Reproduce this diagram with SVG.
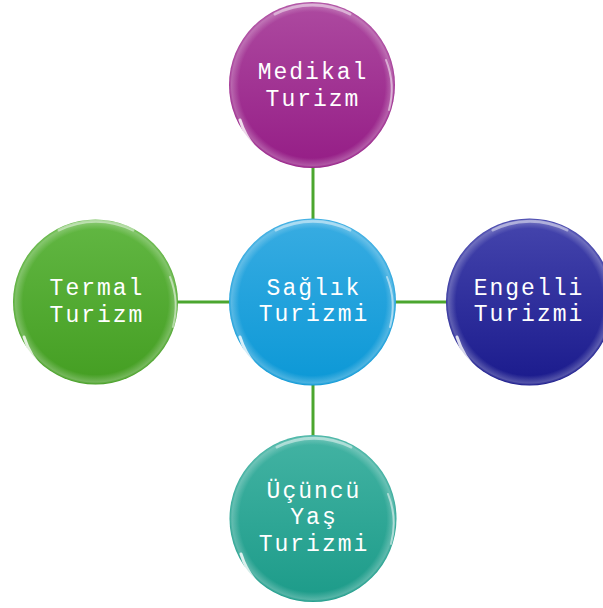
<svg xmlns="http://www.w3.org/2000/svg" width="603" height="608" viewBox="0 0 603 608">
<defs>
<linearGradient id="gM" x1="0" y1="0" x2="0" y2="1"><stop offset="0" stop-color="#ad4aa0"/><stop offset="1" stop-color="#951d86"/></linearGradient>
<linearGradient id="gC" x1="0" y1="0" x2="0" y2="1"><stop offset="0" stop-color="#38ace2"/><stop offset="1" stop-color="#0c98d6"/></linearGradient>
<linearGradient id="gL" x1="0" y1="0" x2="0" y2="1"><stop offset="0" stop-color="#62b743"/><stop offset="1" stop-color="#449e22"/></linearGradient>
<linearGradient id="gR" x1="0" y1="0" x2="0" y2="1"><stop offset="0" stop-color="#4545ad"/><stop offset="1" stop-color="#1a1a8c"/></linearGradient>
<linearGradient id="gB" x1="0" y1="0" x2="0" y2="1"><stop offset="0" stop-color="#43b3a3"/><stop offset="1" stop-color="#1c9b89"/></linearGradient>
<radialGradient id="rim" cx="0.5" cy="0.5" r="0.5"><stop offset="0.88" stop-color="#fff" stop-opacity="0"/><stop offset="0.97" stop-color="#fff" stop-opacity="0.25"/><stop offset="1" stop-color="#fff" stop-opacity="0"/></radialGradient>
</defs>
<style>
.lbl{font-family:"Liberation Mono","Courier New",monospace;font-size:23px;letter-spacing:2px;fill:#fff;text-anchor:middle}
.conn{stroke:#4ba62f;stroke-width:3;fill:none}
.hl{fill:none;stroke:#fff;stroke-linecap:round}
</style>
<g id="connectors">
<line class="conn" x1="313" y1="166" x2="313" y2="220"/>
<line class="conn" x1="313" y1="384" x2="313" y2="437"/>
<line class="conn" x1="176" y1="302" x2="231" y2="302"/>
<line class="conn" x1="394" y1="302" x2="448" y2="302"/>
</g>
<g id="node-medikal">
<circle cx="312" cy="85" r="83" fill="url(#gM)"/>
<circle cx="312" cy="85" r="83" fill="url(#rim)"/>
<path class="hl" d="M 240 120 A 79 79 0 0 0 262 155" stroke-width="3" opacity="0.8"/>
<path class="hl" d="M 275 14 A 82 82 0 0 1 350 14" stroke-width="3" opacity="0.45"/>
<path class="hl" d="M 386 60 A 80 80 0 0 1 389 110" stroke-width="2" opacity="0.5"/>
<text class="lbl" x="313" y="79">Medikal</text>
<text class="lbl" x="313" y="106">Turizm</text>
</g>
<g id="node-saglik">
<circle cx="312.5" cy="302" r="83.5" fill="url(#gC)"/>
<circle cx="312.5" cy="302" r="83.5" fill="url(#rim)"/>
<path class="hl" d="M 240 337 A 79 79 0 0 0 262 372" stroke-width="3" opacity="0.8"/>
<path class="hl" d="M 276 230 A 82 82 0 0 1 350 230" stroke-width="3" opacity="0.45"/>
<path class="hl" d="M 387 277 A 80 80 0 0 1 390 327" stroke-width="2" opacity="0.5"/>
<text class="lbl" x="314" y="295">Sağlık</text>
<text class="lbl" x="314" y="321">Turizmi</text>
</g>
<g id="node-termal">
<circle cx="95.5" cy="302" r="82.5" fill="url(#gL)"/>
<circle cx="95.5" cy="302" r="82.5" fill="url(#rim)"/>
<path class="hl" d="M 24 337 A 79 79 0 0 0 46 372" stroke-width="3" opacity="0.8"/>
<path class="hl" d="M 59 230 A 82 82 0 0 1 133 230" stroke-width="3" opacity="0.45"/>
<path class="hl" d="M 170 277 A 80 80 0 0 1 173 327" stroke-width="2" opacity="0.5"/>
<text class="lbl" x="97" y="295">Termal</text>
<text class="lbl" x="97" y="322">Turizm</text>
</g>
<g id="node-engelli">
<circle cx="529.5" cy="302" r="83.5" fill="url(#gR)"/>
<circle cx="529.5" cy="302" r="83.5" fill="url(#rim)"/>
<path class="hl" d="M 457 337 A 79 79 0 0 0 479 372" stroke-width="3" opacity="0.8"/>
<path class="hl" d="M 493 230 A 82 82 0 0 1 567 230" stroke-width="3" opacity="0.45"/>
<text class="lbl" x="529" y="295">Engelli</text>
<text class="lbl" x="529" y="321">Turizmi</text>
</g>
<g id="node-ucuncu">
<circle cx="313" cy="518.5" r="83.5" fill="url(#gB)"/>
<circle cx="313" cy="518.5" r="83.5" fill="url(#rim)"/>
<path class="hl" d="M 241 554 A 79 79 0 0 0 263 589" stroke-width="3" opacity="0.8"/>
<path class="hl" d="M 277 447 A 82 82 0 0 1 351 447" stroke-width="3" opacity="0.45"/>
<path class="hl" d="M 388 494 A 80 80 0 0 1 391 544" stroke-width="2" opacity="0.5"/>
<text class="lbl" x="314" y="498">Üçüncü</text>
<text class="lbl" x="314" y="524">Yaş</text>
<text class="lbl" x="314" y="551">Turizmi</text>
</g>
</svg>
